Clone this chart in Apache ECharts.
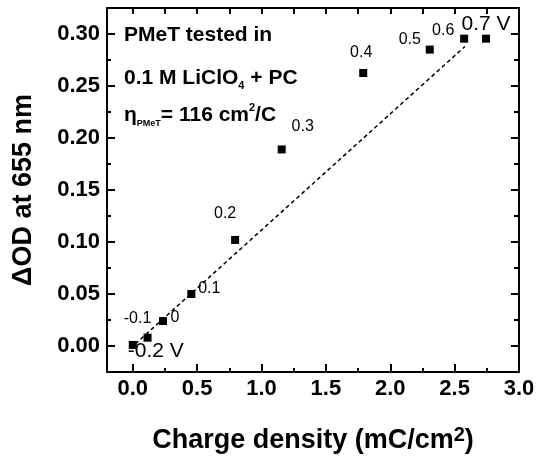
<!DOCTYPE html>
<html>
<head>
<meta charset="utf-8">
<script src="https://cdn.jsdelivr.net/npm/echarts@6/dist/echarts.min.js"></script>
<style>
html,body{margin:0;padding:0;background:#fff;}
#chart{width:537px;height:462px;}
</style>
</head>
<body>
<div id="chart"></div>
<script>
// ---- data ----
const chargeDensity = [0.0, 0.115, 0.235, 0.455, 0.795, 1.157, 1.79, 2.307, 2.574, 2.744];
const deltaOD = [0.001, 0.008, 0.024, 0.050, 0.102, 0.189, 0.2625, 0.285, 0.2955, 0.2955];
const potentialLabels = ['-0.2 V', '-0.1', '0', '0.1', '0.2', '0.3', '0.4', '0.5', '0.6', '0.7 V'];
const fitX = [0.02, 2.58];
const fitY = [0.002, 0.288];
const xTicks = [0.0, 0.5, 1.0, 1.5, 2.0, 2.5, 3.0];
const xMinorTicks = [0.25, 0.75, 1.25, 1.75, 2.25, 2.75];
const yTicks = [0.00, 0.05, 0.10, 0.15, 0.20, 0.25, 0.30];
const yMinorTicks = [0.025, 0.075, 0.125, 0.175, 0.225, 0.275];
const annotationLines = ['PMeT tested in', '0.1 M LiClO{s|4} + PC', 'η{s|PMeT}= 116 cm{p|2}/C'];

// ---- styles (kept apart from data) ----
const FONT = 'Liberation Sans, Arial, sans-serif';
const labelOffsets = [[23, 6], [-10, -19], [12, -3], [18, -5], [-10, -26], [21, -23], [-2, -20], [-20, -10], [-21, -8], [0, -14]];
const labelSizes = [21, 16, 16, 16, 16, 16, 16, 16, 16, 21];

const chart = echarts.init(document.getElementById('chart'), null, {renderer: 'canvas'});

const X_MIN = -0.2, X_MAX = 3.0, Y_MIN = -0.025, Y_MAX = 0.325;
const lineStyle = {color: '#000', width: 2};

const scatterData = chargeDensity.map((x, i) => ({
  value: [x, deltaOD[i]],
  label: {
    show: true,
    formatter: potentialLabels[i],
    position: 'inside',
    offset: labelOffsets[i],
    fontSize: labelSizes[i],
    fontFamily: FONT,
    color: '#000',
    opacity: 1,
    textBorderWidth: 0
  }
}));

const baseX = {type: 'value', min: X_MIN, max: X_MAX, gridIndex: 0, splitLine: {show: false}};
const baseY = {type: 'value', min: Y_MIN, max: Y_MAX, gridIndex: 0, splitLine: {show: false}};

const option = {
  backgroundColor: '#fff',
  animation: false,
  grid: {left: 107, right: 18, top: 8, bottom: 90, containLabel: false, outerBoundsMode: 'none'},
  xAxis: [
    Object.assign({}, baseX, {
      position: 'bottom',
      axisLine: {show: true, onZero: false, lineStyle},
      axisTick: {show: true, inside: true, length: 8, customValues: xTicks, lineStyle},
      axisLabel: {customValues: xTicks, formatter: v => Number(v).toFixed(1), fontSize: 22, fontWeight: 'bold', fontFamily: FONT, color: '#000', margin: 6},
      name: 'Charge density (mC/cm{sup|2})',
      nameLocation: 'middle',
      nameGap: 53,
      nameTextStyle: {
        fontSize: 27, fontWeight: 'bold', fontFamily: FONT, color: '#000', lineHeight: 32,
        rich: {sup: {fontSize: 20, fontWeight: 'bold', fontFamily: FONT, color: '#000', lineHeight: 12, verticalAlign: 'top'}}
      }
    }),
    Object.assign({}, baseX, {
      position: 'bottom',
      axisLine: {show: false, onZero: false},
      axisTick: {show: true, inside: true, length: 4, customValues: xMinorTicks, lineStyle},
      axisLabel: {show: false}
    }),
    Object.assign({}, baseX, {
      position: 'top',
      axisLine: {show: true, onZero: false, lineStyle},
      axisTick: {show: true, inside: true, length: 6, customValues: xTicks.concat(xMinorTicks), lineStyle},
      axisLabel: {show: false}
    })
  ],
  yAxis: [
    Object.assign({}, baseY, {
      position: 'left',
      axisLine: {show: true, onZero: false, lineStyle},
      axisTick: {show: true, inside: true, length: 8, customValues: yTicks, lineStyle},
      axisLabel: {customValues: yTicks, formatter: v => Number(v).toFixed(2), fontSize: 22, fontWeight: 'bold', fontFamily: FONT, color: '#000', margin: 7},
      name: 'ΔOD at 655 nm',
      nameLocation: 'middle',
      nameRotate: 90,
      nameGap: 70,
      nameTextStyle: {fontSize: 27, fontWeight: 'bold', fontFamily: FONT, color: '#000'}
    }),
    Object.assign({}, baseY, {
      position: 'left',
      axisLine: {show: false, onZero: false},
      axisTick: {show: true, inside: true, length: 4, customValues: yMinorTicks, lineStyle},
      axisLabel: {show: false}
    }),
    Object.assign({}, baseY, {
      position: 'right',
      axisLine: {show: true, onZero: false, lineStyle},
      axisTick: {show: true, inside: true, length: 8, customValues: yTicks, lineStyle},
      axisLabel: {show: false}
    }),
    Object.assign({}, baseY, {
      position: 'right',
      axisLine: {show: false, onZero: false},
      axisTick: {show: true, inside: true, length: 5, customValues: yMinorTicks, lineStyle},
      axisLabel: {show: false}
    })
  ],
  graphic: [
    {type: 'text', x: 124, y: 35, style: {
      text: annotationLines[0], fontSize: 21, fontWeight: 'bold', fontFamily: FONT, fill: '#000',
      lineHeight: 26, verticalAlign: 'middle', align: 'left'}},
    {type: 'text', x: 124, y: 78, style: {
      text: annotationLines[1], fontSize: 21, fontWeight: 'bold', fontFamily: FONT, fill: '#000',
      lineHeight: 26, verticalAlign: 'middle', align: 'left',
      rich: {s: {fontSize: 11, fontWeight: 'bold', fontFamily: FONT, fill: '#000', lineHeight: 9, verticalAlign: 'bottom'}}}},
    {type: 'text', x: 124, y: 115, style: {
      text: annotationLines[2], fontSize: 21, fontWeight: 'bold', fontFamily: FONT, fill: '#000',
      lineHeight: 26, verticalAlign: 'middle', align: 'left',
      rich: {
        s: {fontSize: 9, fontWeight: 'bold', fontFamily: FONT, fill: '#000', lineHeight: 11, verticalAlign: 'bottom'},
        p: {fontSize: 11, fontWeight: 'bold', fontFamily: FONT, fill: '#000', lineHeight: 18, verticalAlign: 'top'}
      }}}
  ],
  series: [
    {
      type: 'line',
      xAxisIndex: 0, yAxisIndex: 0,
      data: fitX.map((x, i) => [x, fitY[i]]),
      showSymbol: false,
      symbol: 'none',
      lineStyle: {color: '#000', width: 1.5, type: [4, 3]},
      silent: true
    },
    {
      type: 'scatter',
      xAxisIndex: 0, yAxisIndex: 0,
      symbol: 'rect',
      symbolSize: 8,
      itemStyle: {color: '#000', opacity: 1},
      data: scatterData
    }
  ]
};
chart.setOption(option);
</script>
</body>
</html>
